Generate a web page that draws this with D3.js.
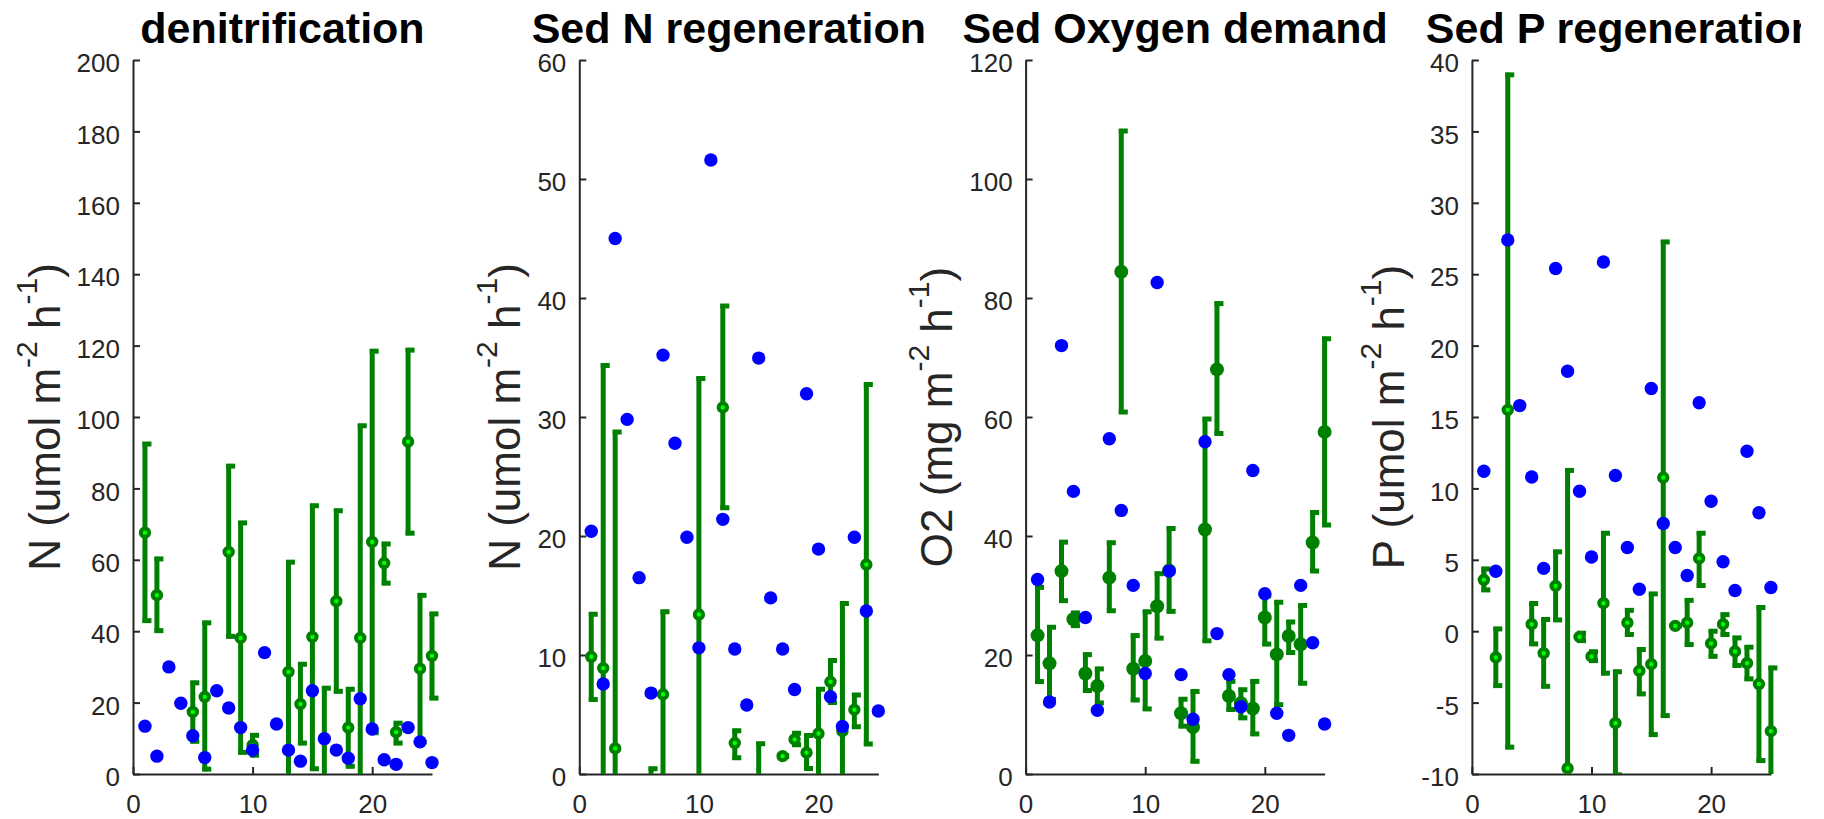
<!DOCTYPE html>
<html>
<head>
<meta charset="utf-8">
<script src="https://cdn.jsdelivr.net/npm/d3@7"></script>
<style>
  body { margin: 0; background: #fff; }
  text { font-family: "Liberation Sans", Arial, Helvetica, sans-serif; white-space: pre; }
</style>
</head>
<body>
<svg id="chart" width="1824" height="819"></svg>
<script>
// station index 1..25
const stations = d3.range(1, 26);

// denitrification (umol N m-2 h-1)
const denitModel = [13.4, 5.0, 30.0, 19.8, 10.7, 4.6, 23.3, 18.5, 13.0, 6.7, 34.0, 14.0, 6.7, 3.6, 23.3, 9.9, 6.7, 4.4, 21.1, 12.6, 4.0, 2.7, 13.0, 9.0, 3.2];
const denitMean = [67.6, 50.1, null, null, 17.4, 21.6, null, 62.2, 38.1, 8.1, null, null, 28.6, 19.6, 38.4, 10.0, 48.4, 13.0, 38.1, 65.0, 59.1, 11.7, 93.1, 29.5, 33.1];
const denitHi = [93.0, 60.8, null, null, 26.1, 42.9, null, 86.8, 70.9, 11.4, null, null, 59.9, 31.3, 75.7, 24.6, 74.3, 24.3, 98.1, 119.0, 65.0, 14.8, 119.3, 50.6, 45.4];
const denitLo = [42.4, 39.6, null, null, 8.6, 0.8, null, 38.0, 5.5, 4.7, null, null, -5.0, 8.1, 0.9, -4.6, 22.6, 1.6, -21.9, 11.0, 52.9, 8.1, 66.9, 8.4, 20.7];

// sediment N regeneration
const nregModel = [20.4, 7.56, 45.0, 29.8, 16.5, 6.8, 35.2, 27.8, 19.9, 10.6, 51.6, 21.4, 10.5, 5.8, 34.95, 14.8, 10.5, 7.1, 31.96, 18.9, 6.5, 4.0, 19.9, 13.7, 5.3];
const nregMean = [9.85, 8.9, 2.15, null, null, -3.0, 6.7, null, null, 13.4, null, 30.8, 2.6, null, -1.0, null, 1.5, 2.9, 1.8, 3.4, 7.75, 3.6, 5.4, 17.6, null];
const nregHi = [13.6, 34.5, 28.9, null, null, 0.6, 13.8, null, null, 33.4, null, 39.5, 3.8, null, 2.7, null, 1.7, 3.6, 3.4, 7.3, 9.7, 14.5, 6.8, 32.9, null];
const nregLo = [6.1, -16.7, -24.6, null, null, -6.6, -0.4, null, null, -6.6, null, 22.2, 1.2, null, -4.7, null, 1.3, 2.3, 0.3, -0.5, 5.85, -7.3, 3.8, 2.35, null];

// sediment oxygen demand
const sodModel = [32.7, 12.1, 72.0, 47.5, 26.3, 10.7, 56.35, 44.3, 31.7, 16.9, 82.6, 34.1, 16.7, 9.2, 55.85, 23.6, 16.7, 11.3, 51.0, 30.3, 10.2, 6.5, 31.7, 22.05, 8.4];
const sodMean = [23.3, 18.6, 34.1, 26.0, 16.9, 14.8, 33.0, 84.4, 17.7, 19.0, 28.2, 34.2, 10.2, 7.9, 41.1, 68.0, 13.1, 11.9, 11.0, 26.3, 20.1, 23.2, 21.8, 38.9, 57.5];
const sodHi = [31.7, 25.0, 39.3, 27.4, 20.4, 18.0, 39.2, 108.4, 23.6, 27.6, 34.0, 41.6, 12.9, 14.2, 60.0, 79.4, 15.9, 14.5, 15.9, 30.3, 29.2, 25.9, 28.65, 44.3, 73.5];
const sodLo = [15.2, 12.2, 28.8, 24.6, 13.7, 11.6, 27.1, 60.5, 12.1, 10.6, 22.5, 27.0, 7.7, 1.8, 22.05, 56.9, 10.5, 9.1, 6.4, 21.5, 11.3, 20.1, 14.9, 33.8, 41.5];

// sediment P regeneration
const pregModel = [11.2, 4.2, 27.4, 15.8, 10.8, 4.4, 25.4, 18.2, 9.8, 5.2, 25.85, 10.9, 5.86, 2.94, 17.0, 7.54, 5.86, 3.9, 16.0, 9.1, 4.86, 2.85, 12.6, 8.3, 3.06];
const pregMean = [3.6, -1.84, 15.5, null, 0.49, -1.54, 3.17, -9.6, -0.4, -1.77, 1.96, -6.44, 0.6, -2.78, -2.31, 10.76, 0.37, 0.6, 5.1, -0.86, 0.49, -1.42, -2.24, -3.7, -7.0];
const pregHi = [4.5, 0.3, 39.1, null, 2.08, 0.96, 5.7, 11.4, 0.0, -1.3, 7.0, -2.7, 1.6, -1.14, 2.75, 27.4, 0.5, 2.3, 7.0, 0.14, 1.3, -0.33, -0.98, 1.8, -2.43];
const pregLo = [2.75, -3.95, -8.26, null, -1.03, -4.0, 0.65, -30.6, -0.8, -2.2, -3.08, -10.2, -0.37, -4.53, -7.38, -6.05, 0.25, -1.07, 3.06, -1.9, -0.37, -2.54, -3.48, -9.2, -11.6];

const xTicks = [0, 10, 20];

const panels = [
  { title: "denitrification", ylab: ["N (umol m", "-2", " h", "-1", ")"], ydom: [0, 200], ystep: 20,
    model: denitModel, mean: denitMean, hi: denitHi, lo: denitLo, filled: false },
  { title: "Sed N regeneration", ylab: ["N (umol m", "-2", " h", "-1", ")"], ydom: [0, 60], ystep: 10,
    model: nregModel, mean: nregMean, hi: nregHi, lo: nregLo, filled: false },
  { title: "Sed Oxygen demand", ylab: ["O2 (mg m", "-2", " h", "-1", ")"], ydom: [0, 120], ystep: 20,
    model: sodModel, mean: sodMean, hi: sodHi, lo: sodLo, filled: true },
  { title: "Sed P regeneration", ylab: ["P (umol m", "-2", " h", "-1", ")"], ydom: [-10, 40], ystep: 5,
    model: pregModel, mean: pregMean, hi: pregHi, lo: pregLo, filled: false }
];

const svg = d3.select("#chart");
const plotTop = 60, plotBottom = 774, pw = 299, left0 = 133, step = 446.3;
const axisCol = "#262626", dark = "#008000", light = "#00ff00", blue = "#0000ff";

// figure canvas ends a little before the window edge
svg.append("clipPath").attr("id", "figclip")
  .append("rect").attr("x", 0).attr("y", 0).attr("width", 1801).attr("height", 819);
const fig = svg.append("g").attr("clip-path", "url(#figclip)");

panels.forEach((p, i) => {
  const x0 = left0 + i * step;
  const g = fig.append("g").attr("transform", `translate(${x0},0)`);
  const x = d3.scaleLinear().domain([0, 25]).range([0, pw]);
  const y = d3.scaleLinear().domain(p.ydom).range([plotBottom, plotTop]);

  const yt = d3.range(p.ydom[0], p.ydom[1] + p.ystep / 2, p.ystep);
  const yAxis = g.append("g")
    .call(d3.axisLeft(y).tickValues(yt).tickFormat(d => String(d))
      .tickSizeInner(-7).tickSizeOuter(0).tickPadding(13));
  const xAxis = g.append("g").attr("transform", `translate(0,${plotBottom})`)
    .call(d3.axisBottom(x).tickValues(xTicks).tickFormat(d => String(d))
      .tickSizeInner(-7).tickSizeOuter(0).tickPadding(21));
  [yAxis, xAxis].forEach(a => {
    a.select(".domain").attr("stroke", axisCol).attr("stroke-width", 2);
    a.selectAll(".tick line").attr("stroke", axisCol).attr("stroke-width", 2);
    a.selectAll(".tick text").attr("fill", axisCol).style("font-size", "26px");
  });
  yAxis.selectAll(".tick text").attr("dy", "0.45em");

  // widest tick label decides where the y label sits
  let tw = 0;
  yAxis.selectAll(".tick text").each(function () { tw = Math.max(tw, this.getComputedTextLength()); });

  const lab = g.append("text")
    .attr("transform", `translate(${-13 - tw - 17},${(plotTop + plotBottom) / 2}) rotate(-90)`)
    .attr("text-anchor", "middle")
    .attr("fill", axisCol)
    .style("font-size", "44px");
  p.ylab.forEach((s, k) => {
    const sup = k % 2 === 1;
    const t = lab.append("tspan").text(s);
    if (sup) t.style("font-size", "30px").attr("dy", -23);
    else if (k > 0) t.attr("dy", 23);
  });

  g.append("text")
    .attr("x", pw / 2).attr("y", 43)
    .attr("text-anchor", "middle")
    .style("font-size", "43px").style("font-weight", "bold")
    .attr("fill", "#000")
    .text(p.title);

  // data: error bars clipped to the axes' vertical range
  const cid = "clip" + i;
  g.append("clipPath").attr("id", cid)
    .append("rect").attr("x", -20).attr("y", plotTop).attr("width", pw + 40).attr("height", plotBottom - plotTop);

  const obs = stations.map((s, k) => ({ s, m: p.mean[k], hi: p.hi[k], lo: p.lo[k] }))
    .filter(d => d.m !== null);

  const bars = g.append("g").attr("clip-path", `url(#${cid})`)
    .attr("stroke", dark).attr("stroke-width", 5);
  bars.selectAll("line.v").data(obs).join("line").attr("class", "v")
    .attr("x1", d => x(d.s)).attr("x2", d => x(d.s))
    .attr("y1", d => y(d.lo)).attr("y2", d => y(d.hi));
  bars.selectAll("line.ch").data(obs).join("line").attr("class", "ch")
    .attr("x1", d => x(d.s) - 2.5).attr("x2", d => x(d.s) + 6.5)
    .attr("y1", d => y(d.hi) + 2).attr("y2", d => y(d.hi) + 2);
  bars.selectAll("line.cl").data(obs).join("line").attr("class", "cl")
    .attr("x1", d => x(d.s) - 2.5).attr("x2", d => x(d.s) + 6.5)
    .attr("y1", d => y(d.lo) - 2).attr("y2", d => y(d.lo) - 2);

  // markers whose centre falls outside the axes are not shown
  const shown = obs.filter(d => d.m >= p.ydom[0] && d.m <= p.ydom[1]);
  const mk = g.append("g");
  if (p.filled) {
    mk.selectAll("circle").data(shown).join("circle")
      .attr("cx", d => x(d.s)).attr("cy", d => y(d.m)).attr("r", 7)
      .attr("fill", dark);
  } else {
    mk.selectAll("circle").data(shown).join("circle")
      .attr("cx", d => x(d.s)).attr("cy", d => y(d.m)).attr("r", 4.2)
      .attr("fill", light).attr("stroke", dark).attr("stroke-width", 4);
  }

  g.append("g").selectAll("circle")
    .data(stations.map((s, k) => ({ s, v: p.model[k] })))
    .join("circle")
    .attr("cx", d => x(d.s)).attr("cy", d => y(d.v)).attr("r", 6.7)
    .attr("fill", blue);
});
</script>
</body>
</html>
